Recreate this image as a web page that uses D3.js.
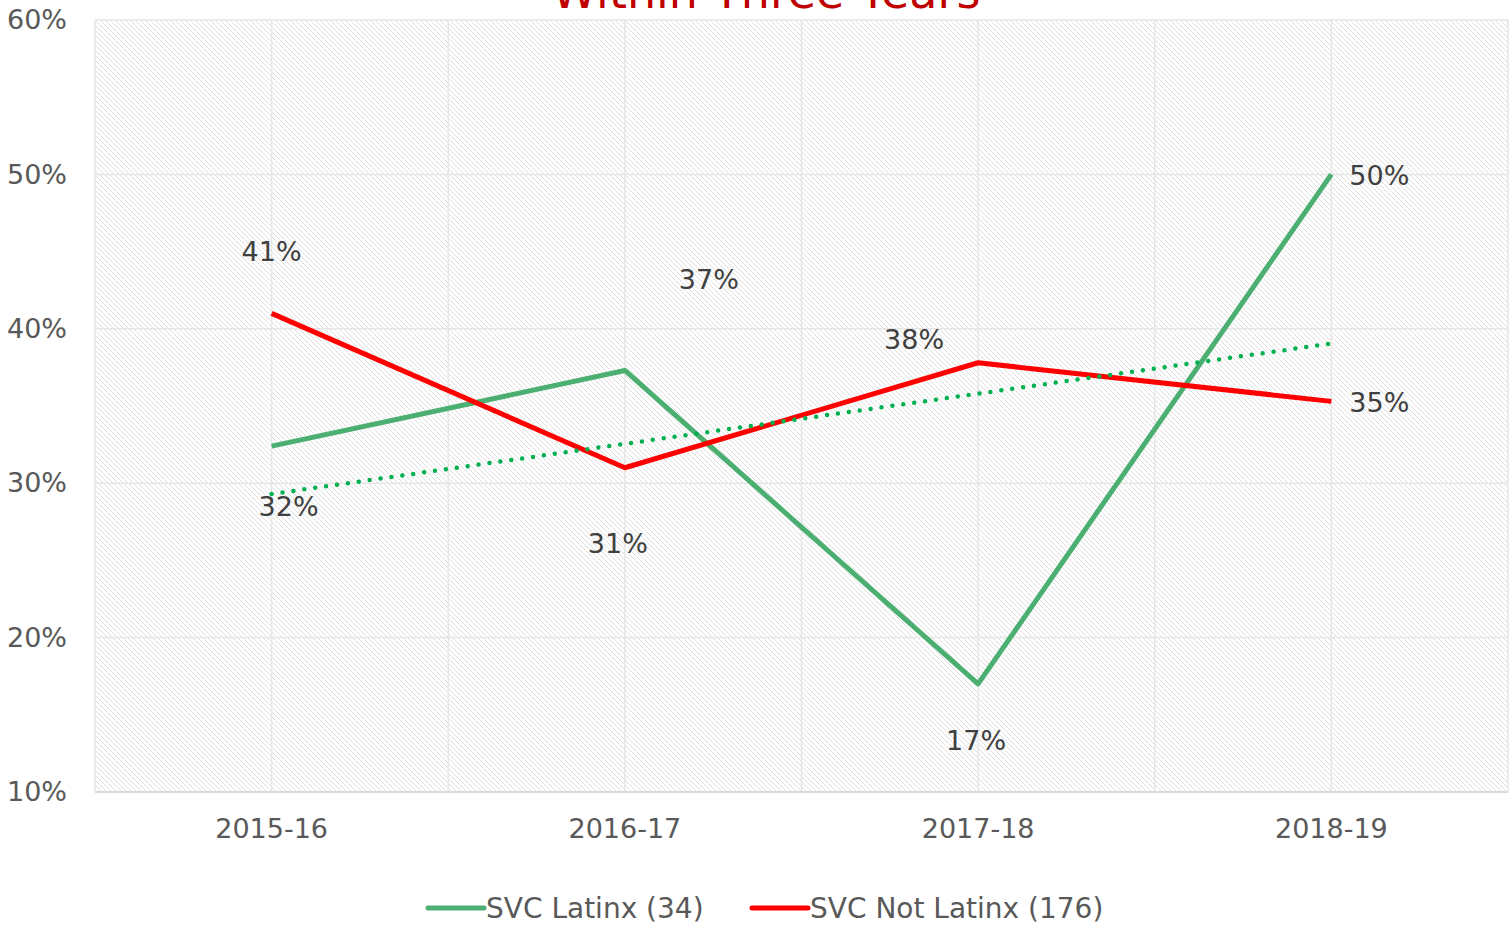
<!DOCTYPE html>
<html>
<head>
<meta charset="utf-8">
<script src="https://cdn.jsdelivr.net/npm/d3@7"></script>
<style>
  body { margin: 0; background: #fff; }
  text { font-family: "DejaVu Sans", sans-serif; }
</style>
</head>
<body>
<svg id="chart"></svg>
<script>
// data
var years = ["2015-16", "2016-17", "2017-18", "2018-19"];
var latinx = [32.4, 37.3, 17.0, 50.0];
var notLatinx = [41.0, 31.0, 37.8, 35.3];
var yTicks = [10, 20, 30, 40, 50, 60];
var seriesNames = ["SVC Latinx (34)", "SVC Not Latinx (176)"];

var width = 1509, height = 925;
var margin = { top: 20, right: 1, bottom: 133, left: 95 };

const svg = d3.select("#chart").attr("width", width).attr("height", height);

// hatched plot background
var defs = svg.append("defs");
var pat = defs.append("pattern")
  .attr("id", "hatch")
  .attr("patternUnits", "userSpaceOnUse")
  .attr("width", 5)
  .attr("height", 5);
pat.append("path")
  .attr("d", "M0,0L5,5M-1,4L1,6M4,-1L6,1")
  .attr("stroke", "#dedede")
  .attr("stroke-width", 1);

var x = d3.scaleBand()
  .domain(years)
  .range([margin.left, width - margin.right])
  .padding(0);
var y = d3.scaleLinear()
  .domain([10, 60])
  .range([height - margin.bottom, margin.top]);
var cx = (d) => x(d) + x.bandwidth() / 2;

svg.append("rect")
  .attr("x", margin.left)
  .attr("y", margin.top)
  .attr("width", width - margin.left - margin.right)
  .attr("height", y(10) - y(60))
  .attr("fill", "url(#hatch)");

// gridlines
var grid = svg.append("g").attr("stroke", "#e6e6e6").attr("stroke-width", 1.5);
grid.selectAll("line.h")
  .data(yTicks)
  .enter()
  .append("line")
  .attr("x1", margin.left)
  .attr("x2", width - margin.right)
  .attr("y1", (d) => y(d))
  .attr("y2", (d) => y(d));
var vlines = [];
years.forEach((d) => { vlines.push(x(d)); vlines.push(cx(d)); });
vlines.push(x(years[years.length - 1]) + x.bandwidth());
grid.selectAll("line.v")
  .data(vlines)
  .enter()
  .append("line")
  .attr("x1", (d) => d)
  .attr("x2", (d) => d)
  .attr("y1", y(60))
  .attr("y2", y(10));
svg.append("line")
  .attr("x1", margin.left).attr("x2", width - margin.right)
  .attr("y1", y(10)).attr("y2", y(10))
  .attr("stroke", "#d9d9d9").attr("stroke-width", 2);

// axes
var yAxis = svg.append("g")
  .attr("transform", "translate(" + (margin.left - 28) + ",0)")
  .call(d3.axisLeft(y).tickValues(yTicks).tickFormat((d) => d + "%").tickSize(0).tickPadding(0));
yAxis.select(".domain").remove();
yAxis.selectAll("text")
  .style("font-size", "27px")
  .attr("fill", "#595959")
  .attr("font-family", "DejaVu Sans");

var xAxis = svg.append("g")
  .attr("transform", "translate(0," + (y(10) + 27) + ")")
  .call(d3.axisBottom(x).tickSize(0).tickPadding(0));
xAxis.select(".domain").remove();
xAxis.selectAll("text")
  .style("font-size", "27px")
  .attr("fill", "#595959")
  .attr("font-family", "DejaVu Sans");

// lines
var line = d3.line()
  .x((d, i) => cx(years[i]))
  .y((d) => y(d));

svg.append("path")
  .datum(latinx)
  .attr("d", line)
  .attr("fill", "none")
  .attr("stroke", "#4caf72")
  .attr("stroke-width", 5)
  .attr("stroke-linejoin", "round");

svg.append("path")
  .datum(notLatinx)
  .attr("d", line)
  .attr("fill", "none")
  .attr("stroke", "#ff0000")
  .attr("stroke-width", 5)
  .attr("stroke-linejoin", "round");

// linear trendline for Latinx
var n = latinx.length;
var mx = d3.mean(latinx, (d, i) => i + 1);
var my = d3.mean(latinx);
var slope = d3.sum(latinx, (d, i) => (i + 1 - mx) * (d - my)) / d3.sum(latinx, (d, i) => (i + 1 - mx) * (i + 1 - mx));
var trend = latinx.map((d, i) => my + slope * (i + 1 - mx));
svg.append("path")
  .datum([trend[0], trend[n - 1]])
  .attr("d", d3.line().x((d, i) => cx(years[i * (n - 1)])).y((d) => y(d)))
  .attr("fill", "none")
  .attr("stroke", "#00b050")
  .attr("stroke-width", 4.5)
  .attr("stroke-linecap", "round")
  .attr("stroke-dasharray", "0 11");

// data labels (offsets match the hand-placed labels)
var latinxOff = [[17, 60], [84, -91], [-2, 57], [48, 1]];
var notOff = [[0, -62], [-7, 76], [-64, -23], [48, 1]];
function labels(vals, off) {
  svg.append("g")
    .selectAll("text")
    .data(vals)
    .enter()
    .append("text")
    .attr("x", (d, i) => cx(years[i]) + off[i][0])
    .attr("y", (d, i) => y(d) + off[i][1])
    .attr("text-anchor", "middle")
    .attr("dominant-baseline", "central")
    .attr("font-size", 27)
    .attr("fill", "#404040")
    .text((d) => Math.round(d) + "%");
}
labels(latinx, latinxOff);
labels(notLatinx, notOff);

// title (cut off at the top, as in the original)
svg.append("text")
  .attr("x", 766)
  .attr("y", 8)
  .attr("text-anchor", "middle")
  .attr("font-size", 46)
  .attr("fill", "#c00000")
  .text("Within Three Years");

// legend
var legend = svg.append("g");
var legendItems = [
  { name: seriesNames[0], color: "#4caf72", x: 428 },
  { name: seriesNames[1], color: "#ff0000", x: 752 },
];
legendItems.forEach((d) => {
  legend.append("line")
    .attr("x1", d.x).attr("x2", d.x + 56)
    .attr("y1", 908).attr("y2", 908)
    .attr("stroke", d.color)
    .attr("stroke-width", 5)
    .attr("stroke-linecap", "round");
  legend.append("text")
    .attr("x", d.x + 58)
    .attr("y", 908)
    .attr("dominant-baseline", "central")
    .attr("font-size", 28)
    .attr("fill", "#595959")
    .text(d.name);
});
</script>
</body>
</html>
